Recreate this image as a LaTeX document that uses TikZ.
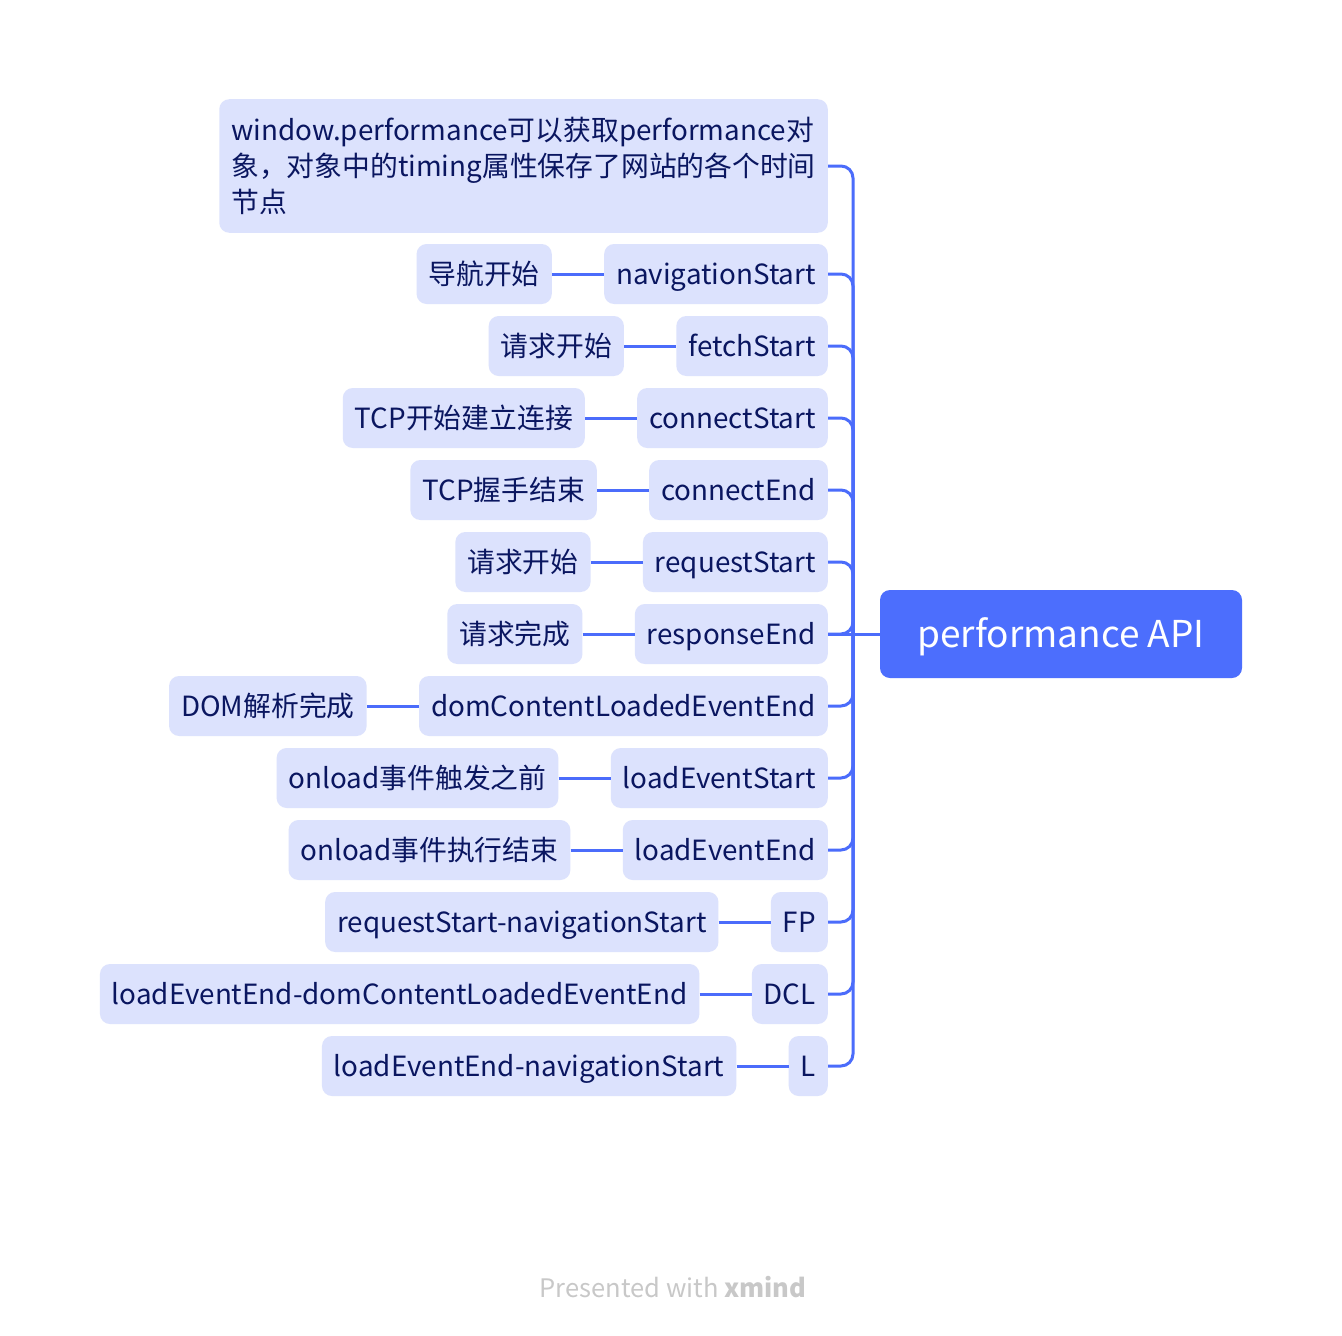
\documentclass[tikz,border=0pt]{standalone}
\usepackage{fontspec}
\setmainfont{Noto Sans CJK SC}
\usetikzlibrary{positioning}
\definecolor{rootblue}{HTML}{4C6EFD}
\definecolor{topicfill}{HTML}{DCE2FD}
\definecolor{topictext}{HTML}{0A1660}
\definecolor{linkblue}{HTML}{4B6CFB}
\definecolor{footgray}{HTML}{C8C8C8}
\tikzset{
  topic/.style={fill=topicfill, text=topictext, rounded corners=10pt,
    minimum height=60pt, inner xsep=12pt, inner ysep=0pt,
    text height=24pt, text depth=3pt,
    font=\fontsize{27.8}{36}\selectfont},
  link/.style={draw=linkblue, line width=3pt},
}

\begin{document}
\begin{tikzpicture}[x=1pt, y=-1pt]
    \useasboundingbox[fill=white] (0,0) rectangle (1342,1336);
    \node[fill=rootblue, text=white, rounded corners=10pt, minimum width=362pt,
        minimum height=88pt, text height=28pt, text depth=2pt,
        font=\fontsize{37}{40}\selectfont] (root) at (1061,634) {performance API};
    \coordinate (hub) at (853,634);
    % first level
    \node[topic, anchor=east, align=left, inner ysep=18pt, text height=, text depth=] (timing) at (828,166)
        {window.performance可以获取performance对\\象，对象中的timing属性保存了网站的各个时间\\节点};
    \node[topic, anchor=east] (navstart) at (828,274) {navigationStart};
    \node[topic, anchor=east] (fetchstart) at (828,346) {fetchStart};
    \node[topic, anchor=east] (connstart) at (828,418) {connectStart};
    \node[topic, anchor=east] (connend) at (828,490) {connectEnd};
    \node[topic, anchor=east] (reqstart) at (828,562) {requestStart};
    \node[topic, anchor=east] (respend) at (828,634) {responseEnd};
    \node[topic, anchor=east] (domend) at (828,706) {domContentLoadedEventEnd};
    \node[topic, anchor=east] (loadstart) at (828,778) {loadEventStart};
    \node[topic, anchor=east] (loadend) at (828,850) {loadEventEnd};
    \node[topic, anchor=east] (fp) at (828,922) {FP};
    \node[topic, anchor=east] (dcl) at (828,994) {DCL};
    \node[topic, anchor=east] (l) at (828,1066) {L};
    % second level
    \node[topic, left=52pt of navstart] (navstartcn) {导航开始};
    \node[topic, left=52pt of fetchstart] (fetchstartcn) {请求开始};
    \node[topic, left=52pt of connstart] (connstartcn) {TCP开始建立连接};
    \node[topic, left=52pt of connend] (connendcn) {TCP握手结束};
    \node[topic, left=52pt of reqstart] (reqstartcn) {请求开始};
    \node[topic, left=52pt of respend] (respendcn) {请求完成};
    \node[topic, left=52pt of domend] (domendcn) {DOM解析完成};
    \node[topic, left=52pt of loadstart] (loadstartcn) {onload事件触发之前};
    \node[topic, left=52pt of loadend] (loadendcn) {onload事件执行结束};
    \node[topic, left=52pt of fp] (fpcalc) {requestStart-navigationStart};
    \node[topic, left=52pt of dcl] (dclcalc) {loadEventEnd-domContentLoadedEventEnd};
    \node[topic, left=52pt of l] (lcalc) {loadEventEnd-navigationStart};
    % connectors
    \draw[link] (root.west) -- (respend.east);
    \foreach \n in {timing, navstart, fetchstart, connstart, connend, reqstart,
        respend, domend, loadstart, loadend, fp, dcl, l}
        \draw[link, rounded corners=12pt] (hub) |- (\n.east);
    \foreach \a/\b in {navstartcn/navstart, fetchstartcn/fetchstart, connstartcn/connstart,
        connendcn/connend, reqstartcn/reqstart, respendcn/respend, domendcn/domend,
        loadstartcn/loadstart, loadendcn/loadend, fpcalc/fp, dclcalc/dcl, lcalc/l}
        \draw[link] (\a.east) -- (\b.west);
    \node[text=footgray, font=\fontsize{25.5}{28}\selectfont] (credit) at (673,1287)
        {Presented with \textbf{xmind}};
\end{tikzpicture}
\end{document}
